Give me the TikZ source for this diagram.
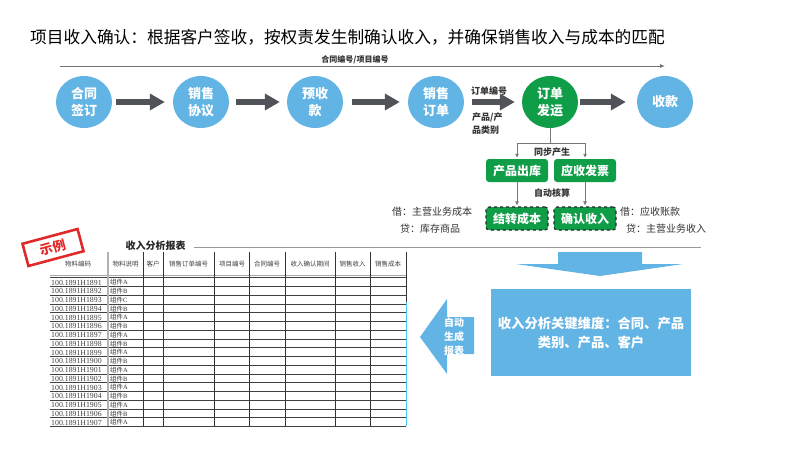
\documentclass[tikz,border=0pt]{standalone}
\usepackage{fontspec}
\setmainfont{Noto Sans CJK SC}
\newfontfamily\numf{Liberation Serif}
\usetikzlibrary{arrows.meta,shapes.geometric}
\definecolor{cblue}{HTML}{62B4E4}
\definecolor{cgreen}{HTML}{0F9D48}
\definecolor{cdark}{HTML}{505358}
\definecolor{cred}{HTML}{E02A2A}
\definecolor{cline}{HTML}{777777}
\newcommand\fsz[2]{\fontsize{#1}{#2}\selectfont}
\tikzset{
  circ/.style={ellipse, minimum width=56pt, minimum height=52pt, inner sep=0pt, fill=cblue, text=white, align=center, font=\bfseries\fsz{13}{17}},
  gcirc/.style={circ, fill=cgreen},
  bigarrow/.style={draw=cdark, line width=6pt, -{Triangle[length=15pt,width=16pt]}},
  gbox/.style={rounded corners=3pt, fill=cgreen, text=white, minimum width=62pt, minimum height=23pt, inner sep=0pt, font=\bfseries\fsz{12}{12}},
  dbox/.style={gbox, draw=black!85, dashed, line width=1.1pt},
  thinarrow/.style={draw=cline, line width=0.8pt, -{Latex[length=4pt,width=4pt]}, shorten >=1pt},
  lbl/.style={inner sep=0pt, font=\bfseries\fsz{9}{12}, text=black!80},
  note/.style={inner sep=0pt, font=\fsz{10}{12}, text=black!80},
  hdr/.style={inner sep=0pt, font=\fsz{6.5}{7}, text=black!75},
  cell/.style={inner sep=0pt, anchor=west, font=\fsz{6.5}{7}, text=black!80},
}
\begin{document}
\begin{tikzpicture}[x=1pt,y=-1pt]
\useasboundingbox (0,0) rectangle (800,450);

% title
\node[anchor=west, inner sep=0pt, font=\fsz{16.7}{18}] (title) at (30,37) {项目收入确认：根据客户签收，按权责发生制确认收入，并确保销售收入与成本的匹配};

% top line
\coordinate (tl) at (60,66);
\coordinate (tr) at (665,66);
\draw[draw=black!55, line width=0.8pt, -{Latex[length=5pt,width=4pt]}] (tl) -- (tr);
\node[anchor=south, inner sep=0.5pt, font=\bfseries\fsz{8}{8}, text=black!80] (cno) at (355,65) {合同编号/项目编号};

% circles
\node[circ] (c1) at (84,102) {合同\\签订};
\node[circ] (c2) at (201,102) {销售\\协议};
\node[circ] (c3) at (315,102) {预收\\款};
\node[circ] (c4) at (436,102) {销售\\订单};
\node[gcirc] (c5) at (550,102) {订单\\发运};
\node[circ] (c6) at (665,102) {收款};

\draw[bigarrow, shorten <=4pt, shorten >=8pt] (c1) -- (c2);
\draw[bigarrow, shorten <=7pt, shorten >=7pt] (c2) -- (c3);
\draw[bigarrow, shorten <=9pt, shorten >=8pt] (c3) -- (c4);
\draw[bigarrow, shorten <=8pt, shorten >=7pt] (c4) -- (c5);
\draw[bigarrow, shorten <=2pt, shorten >=11pt] (c5) -- (c6);

\node[lbl] (ono) at (489,91) {订单编号};
\node[lbl, anchor=west, align=left, font=\bfseries\fsz{9}{13}] (pcat) at (472,124) {产品/产\\品类别};

% green part
\node[gbox] (b1) at (517,170.5) {产品出库};
\node[gbox] (b2) at (585,170.5) {应收发票};
\node[dbox] (b3) at (517,218.5) {结转成本};
\node[dbox] (b4) at (585,218.5) {确认收入};
\coordinate (br) at (550,143);
\draw[draw=cline, line width=0.8pt] (c5.south) -- (br);
\draw[thinarrow] (br) -| (b1.north);
\draw[thinarrow] (br) -| (b2.north);
\draw[thinarrow] (b1) -- (b3);
\draw[thinarrow] (b2) -- (b4);
\node[lbl] (sync) at (552,152) {同步产生};
\node[lbl] (auto) at (552,193) {自动核算};

\node[note] (n1) at (432,212) {借：主营业务成本};
\node[note] (n2) at (430,229) {贷：库存商品};
\node[note] (n3) at (650,212) {借：应收账款};
\node[note] (n4) at (666,229) {贷：主营业务收入};

% big down arrow
\fill[cblue] (558,252) -- (642,252) -- (642,264) -- (683,264) -- (600,276) -- (516,264) -- (558,264) -- cycle;
% big box
\node[fill=cblue, minimum width=200pt, minimum height=87pt, inner sep=0pt, text=white, align=center, font=\bfseries\fsz{13.3}{19}] (dim) at (591,332.5) {收入分析关键维度：合同、产品\\类别、产品、客户};
% left arrow
\fill[cblue] (474,317) -- (447,317) -- (447,299) -- (420,337) -- (447,374) -- (447,354) -- (474,354) -- cycle;
\node[inner sep=0pt, text=white, align=center, font=\bfseries\fsz{10}{14}] (gen) at (454,336.5) {自动\\生成\\报表};

% report title and line
\node[inner sep=0pt, font=\bfseries\fsz{10}{10}, text=black!85] (rt) at (155.5,246) {收入分析报表};
\coordinate (ll) at (194,247);
\coordinate (lr) at (701,247);
\draw[draw=black!40, line width=1pt] (ll) -- (lr);

% stamp
\node[draw=cred, line width=2.6pt, rotate=15, minimum width=57pt, minimum height=23pt, inner sep=0pt, text=cred, font=\bfseries\fsz{13}{13}] (stamp) at (53,247.5) {示例};

% table header
\node[hdr] (h1) at (78,264) {物料编码};
\node[hdr] (h2) at (125.5,264) {物料说明};
\node[hdr] (h3) at (153,264) {客户};
\node[hdr] (h4) at (188.5,264) {销售订单编号};
\node[hdr] (h5) at (232,264) {项目编号};
\node[hdr] (h6) at (267,264) {合同编号};
\node[hdr] (h7) at (310,264) {收入确认期间};
\node[hdr] (h8) at (352.5,264) {销售收入};
\node[hdr] (h9) at (388,264) {销售成本};

% horizontal lines
\draw[draw=black!35, line width=0.6pt] (50,275.5) -- (406,275.5);
\foreach \i in {0,...,17}
  \draw[draw=black!75, line width=0.5pt] (50,277.6+8.75*\i) -- (406,277.6+8.75*\i);
% vertical lines
\draw[draw=black!30, line width=1.6pt] (108,252) -- (108,426.4);
\foreach \x in {143,163,214,249,285,335,370}
  \draw[draw=black!80, line width=0.5pt] (\x,252) -- (\x,426.4);
\draw[draw=black!80, line width=0.5pt] (406,252) -- (406,302);
\draw[draw=cblue!70!cyan, line width=0.8pt] (406,302) -- (406,426.4);

% table rows
\foreach \n/\l [count=\i from 0] in {1891/A,1892/B,1893/C,1894/B,1895/A,1896/B,1897/A,1898/B,1899/A,1900/B,1901/A,1902/B,1903/A,1904/B,1905/A,1906/B,1907/A}{
  \node[cell, font=\numf\fsz{7.8}{8}, text=black!75] (r\i) at (51,282.5+8.75*\i) {100.1891H\n};
  \node[cell] (p\i) at (110,282.5+8.75*\i) {组件{\numf\l}};
}
\end{tikzpicture}
\end{document}
